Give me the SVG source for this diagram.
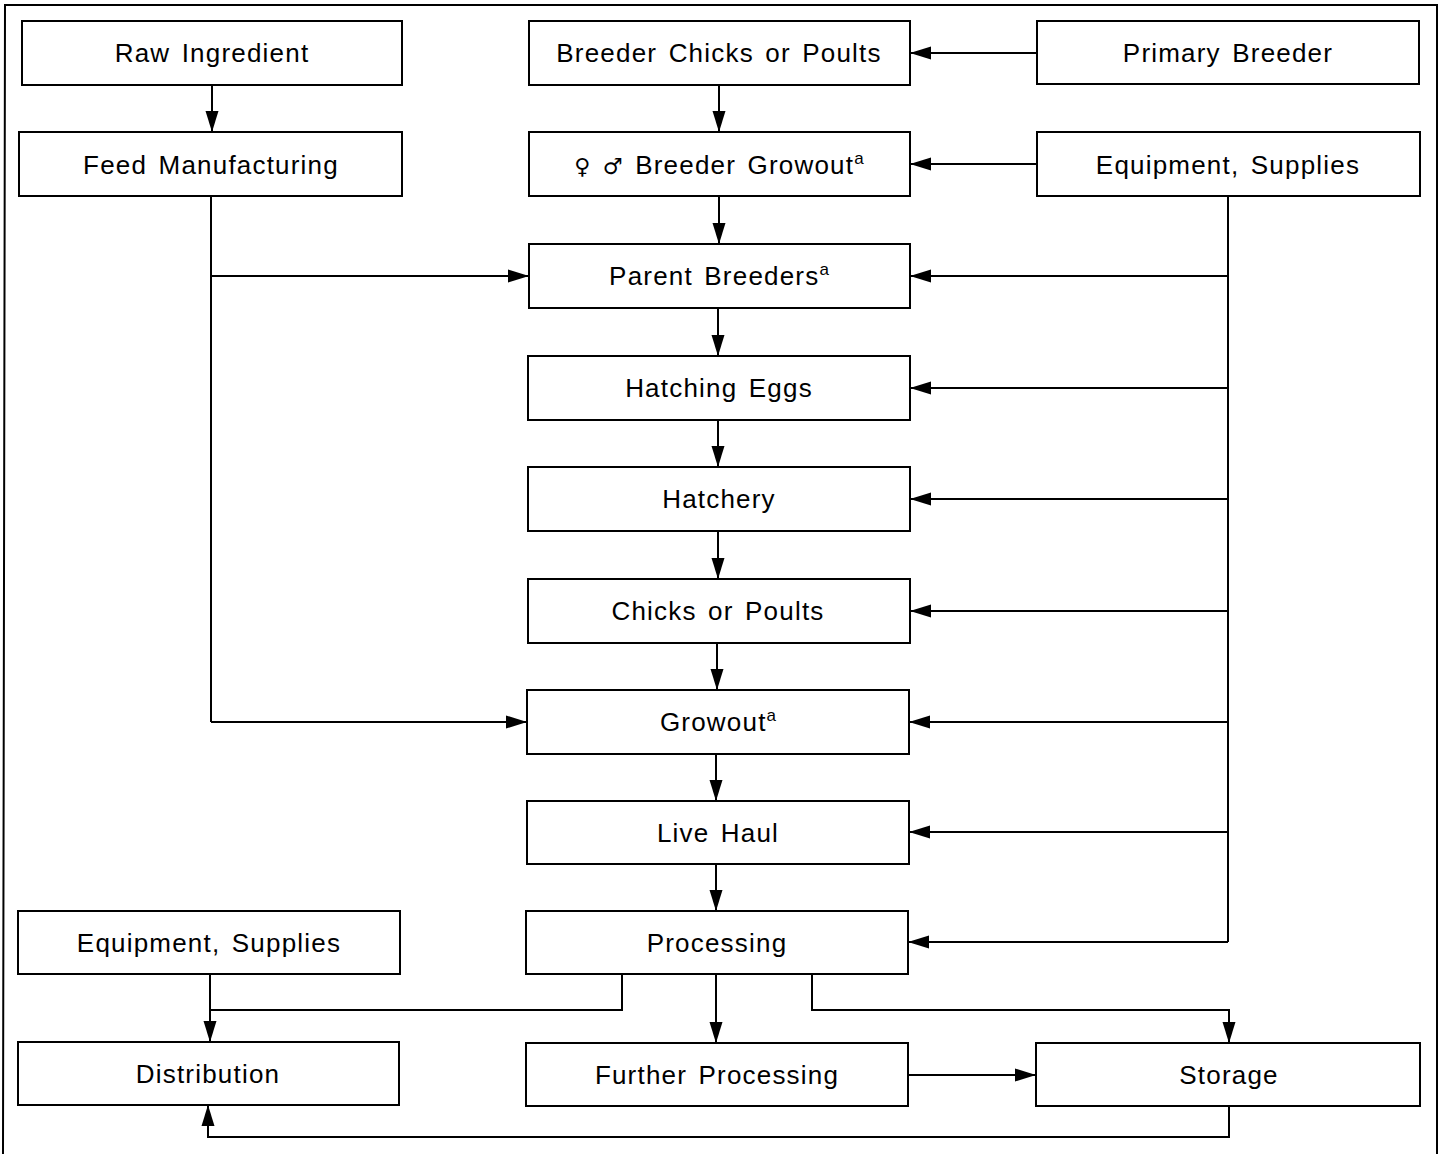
<svg xmlns="http://www.w3.org/2000/svg" width="1444" height="1154" viewBox="0 0 1444 1154">
<defs>
<marker id="ah" markerUnits="userSpaceOnUse" markerWidth="22" markerHeight="14" refX="21" refY="7" orient="auto">
<path d="M0,0.5 L21,7 L0,13.5 z" fill="#000"/>
</marker>
<style>
.box{fill:#fff;stroke:#000;stroke-width:2}
.lbl{font-family:"Liberation Sans","DejaVu Sans",Arial,sans-serif;font-size:26px;letter-spacing:1.2px;word-spacing:3px;text-anchor:middle;fill:#000}
.sup{font-size:17px;letter-spacing:0}
.sym{font-family:"DejaVu Sans",sans-serif;font-size:22px}
.ln{fill:none;stroke:#000;stroke-width:2}
.ar{fill:none;stroke:#000;stroke-width:2;marker-end:url(#ah)}
</style>
</defs>
<rect width="1444" height="1154" fill="#fff"/>
<path class="ln" d="M3,1154 L5,5 H1437 V1154"/>

<g id="raw-ingredient"><rect class="box" x="22" y="21" width="380" height="64"/><text class="lbl" x="212" y="62">Raw Ingredient</text></g>
<g id="feed-manufacturing"><rect class="box" x="19" y="132" width="383" height="64"/><text class="lbl" x="211" y="174">Feed Manufacturing</text></g>
<g id="breeder-chicks"><rect class="box" x="529" y="21" width="381" height="64"/><text class="lbl" x="719" y="62">Breeder Chicks or Poults</text></g>
<g id="primary-breeder"><rect class="box" x="1037" y="21" width="382" height="63"/><text class="lbl" x="1228" y="62">Primary Breeder</text></g>
<g id="breeder-growout"><rect class="box" x="529" y="132" width="381" height="64"/><text class="lbl" x="719" y="174"><tspan class="sym">♀ ♂</tspan> Breeder Growout<tspan class="sup" dy="-10">a</tspan></text></g>
<g id="equipment-supplies-right"><rect class="box" x="1037" y="132" width="383" height="64"/><text class="lbl" x="1228" y="174">Equipment, Supplies</text></g>
<g id="parent-breeders"><rect class="box" x="529" y="244" width="381" height="64"/><text class="lbl" x="719" y="285">Parent Breeders<tspan class="sup" dy="-10">a</tspan></text></g>
<g id="hatching-eggs"><rect class="box" x="528" y="356" width="382" height="64"/><text class="lbl" x="719" y="397">Hatching Eggs</text></g>
<g id="hatchery"><rect class="box" x="528" y="467" width="382" height="64"/><text class="lbl" x="719" y="508">Hatchery</text></g>
<g id="chicks-or-poults"><rect class="box" x="528" y="579" width="382" height="64"/><text class="lbl" x="718" y="620">Chicks or Poults</text></g>
<g id="growout"><rect class="box" x="527" y="690" width="382" height="64"/><text class="lbl" x="718" y="731">Growout<tspan class="sup" dy="-10">a</tspan></text></g>
<g id="live-haul"><rect class="box" x="527" y="801" width="382" height="63"/><text class="lbl" x="718" y="842">Live Haul</text></g>
<g id="processing"><rect class="box" x="526" y="911" width="382" height="63"/><text class="lbl" x="717" y="952">Processing</text></g>
<g id="equipment-supplies-left"><rect class="box" x="18" y="911" width="382" height="63"/><text class="lbl" x="209" y="952">Equipment, Supplies</text></g>
<g id="distribution"><rect class="box" x="18" y="1042" width="381" height="63"/><text class="lbl" x="208" y="1083">Distribution</text></g>
<g id="further-processing"><rect class="box" x="526" y="1043" width="382" height="63"/><text class="lbl" x="717" y="1084">Further Processing</text></g>
<g id="storage"><rect class="box" x="1036" y="1043" width="384" height="63"/><text class="lbl" x="1229" y="1084">Storage</text></g>

<g id="connectors">
<path class="ar" d="M212,85 V132"/>
<path class="ln" d="M211,196 V722"/>
<path class="ar" d="M211,276 H529"/>
<path class="ar" d="M211,722 H527"/>
<path class="ar" d="M1037,53 H910"/>
<path class="ar" d="M1037,164 H910"/>
<path class="ln" d="M1228,196 V942"/>
<path class="ar" d="M1228,276 H910"/>
<path class="ar" d="M1228,388 H910"/>
<path class="ar" d="M1228,499 H910"/>
<path class="ar" d="M1228,611 H910"/>
<path class="ar" d="M1228,722 H909"/>
<path class="ar" d="M1228,832 H909"/>
<path class="ar" d="M1228,942 H908"/>
<path class="ar" d="M719,85 V132"/>
<path class="ar" d="M719,196 V244"/>
<path class="ar" d="M718,308 V356"/>
<path class="ar" d="M718,420 V467"/>
<path class="ar" d="M718,531 V579"/>
<path class="ar" d="M717,643 V690"/>
<path class="ar" d="M716,754 V801"/>
<path class="ar" d="M716,864 V911"/>
<path class="ar" d="M716,974 V1043"/>
<path class="ln" d="M622,974 V1010 H210"/>
<path class="ar" d="M210,974 V1042"/>
<path class="ar" d="M812,974 V1010 H1229 V1043"/>
<path class="ar" d="M908,1075 H1036"/>
<path class="ar" d="M1229,1106 V1137 H208 V1105"/>
</g>
</svg>
